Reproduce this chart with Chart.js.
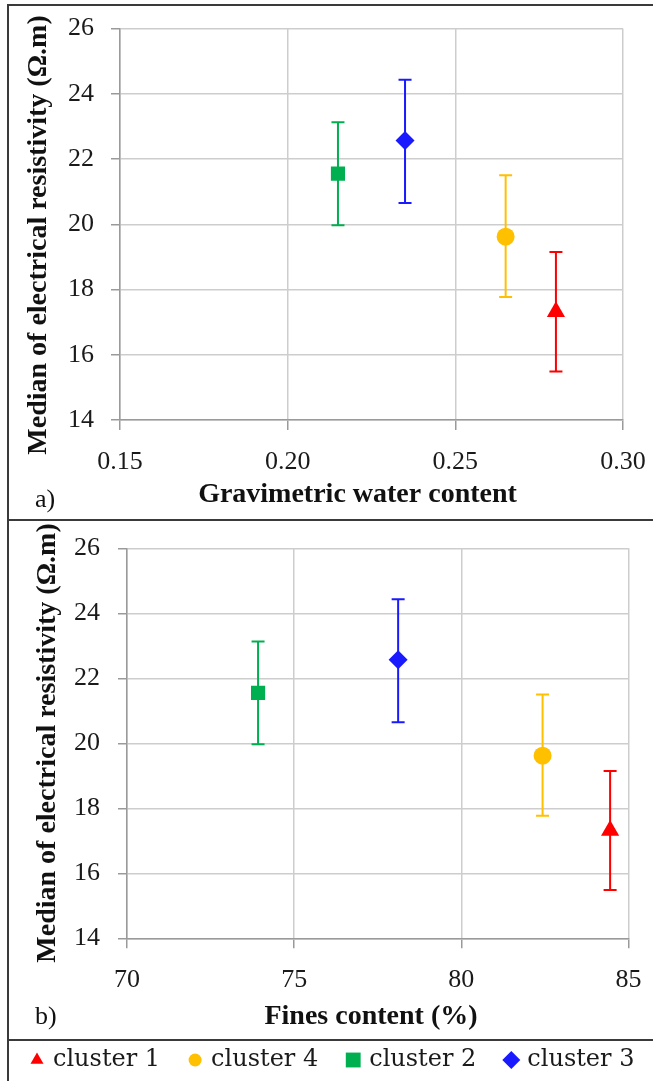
<!DOCTYPE html>
<html>
<head>
<meta charset="utf-8">
<script src="https://cdn.jsdelivr.net/npm/chart.js@4.4.0/dist/chart.umd.min.js"></script>
<style>
  html, body { margin: 0; padding: 0; background: #fff; }
  body { width: 653px; height: 1081px; position: relative; overflow: hidden; }
  .panel { position: absolute; left: 9px; width: 644px; }
  .rule { position: absolute; background: #3a3a3a; }
</style>
</head>
<body>
<div class="panel" style="top:6px;height:513px"><canvas id="chartA"></canvas></div>
<div class="panel" style="top:521px;height:560px"><canvas id="chartB"></canvas></div>
<div class="rule" style="left:7px;top:4px;width:646px;height:2px"></div>
<div class="rule" style="left:7px;top:4px;width:2px;height:1077px"></div>
<div class="rule" style="left:7px;top:519px;width:646px;height:2px"></div>
<div class="rule" style="left:7px;top:1039px;width:646px;height:2px"></div>
<script>
// values, one entry per cluster (legend order)
const clusters = ["cluster 1", "cluster 4", "cluster 2", "cluster 3"];
const waterContent = [0.280, 0.265, 0.215, 0.235];
const finesContent = [84.45, 82.43, 73.92, 78.11];
const resistivityMedian = [17.32, 19.62, 21.55, 22.57];
const resistivityLow = [15.49, 17.77, 19.97, 20.65];
const resistivityHigh = [19.15, 21.50, 23.13, 24.43];

const waterTicks = [0.15, 0.20, 0.25, 0.30];
const finesTicks = [70, 75, 80, 85];
const resistivityTicks = [14, 16, 18, 20, 22, 24, 26];

// styling
const clusterColors = ["#ff0000", "#ffc000", "#00b050", "#1a1aff"];
const markerStyles = ["triangle", "circle", "rect", "rectRot"];
const markerRadii = [10.5, 9, 10, 9.5];
const legendRadii = [7.5, 6.5, 10.5, 9];

const serif = "Liberation Serif";
const tickFont = { family: serif, size: 26 };
const titleFont = 'bold 28px "Liberation Serif"';
const yTitle = "Median of electrical resistivity (\u03a9.m)";

// error bars drawn under the markers
const errorBars = {
    id: "errorBars",
    beforeDatasetsDraw(chart) {
        const { ctx, scales: { x, y } } = chart;
        const cap = 6.5;
        chart.data.datasets.forEach((ds) => {
            ds.data.forEach((pt) => {
                const px = x.getPixelForValue(pt.x);
                const top = y.getPixelForValue(pt.yMax);
                const bot = y.getPixelForValue(pt.yMin);
                ctx.save();
                ctx.strokeStyle = ds.borderColor;
                ctx.lineWidth = 2;
                ctx.beginPath();
                ctx.moveTo(px, top);
                ctx.lineTo(px, bot);
                ctx.moveTo(px - cap, top);
                ctx.lineTo(px + cap, top);
                ctx.moveTo(px - cap, bot);
                ctx.lineTo(px + cap, bot);
                ctx.stroke();
                ctx.restore();
            });
        });
    }
};

// axis titles and panel letters
const panelText = {
    id: "panelText",
    afterDraw(chart, args, opts) {
        const ctx = chart.ctx;
        (opts.items || []).forEach((item) => {
            ctx.save();
            ctx.font = item.font;
            ctx.fillStyle = "#111";
            ctx.textAlign = item.align || "center";
            ctx.textBaseline = "middle";
            ctx.translate(item.x, item.y);
            if (item.rotate) ctx.rotate(item.rotate);
            ctx.fillText(item.text, 0, 0);
            ctx.restore();
        });
    }
};

// one-row legend in the strip under panel b
const stripLegend = {
    id: "stripLegend",
    afterDraw(chart, args, opts) {
        if (!opts.show) return;
        const ctx = chart.ctx;
        ctx.save();
        ctx.font = opts.font;
        ctx.textAlign = "left";
        ctx.textBaseline = "middle";
        let cx = opts.x;
        chart.data.datasets.forEach((ds, i) => {
            ctx.fillStyle = ds.backgroundColor;
            Chart.helpers.drawPoint(ctx, {
                pointStyle: ds.pointStyle,
                radius: legendRadii[i],
                rotation: 0,
                borderWidth: 0
            }, cx, opts.y);
            ctx.fillStyle = "#1a1a1a";
            ctx.fillText(ds.label, cx + opts.gap, opts.y);
            cx += opts.gap + ctx.measureText(ds.label).width + opts.spacing;
        });
        ctx.restore();
    }
};

function buildDatasets(xValues) {
    return clusters.map((name, i) => ({
        label: name,
        data: [{
            x: xValues[i],
            y: resistivityMedian[i],
            yMin: resistivityLow[i],
            yMax: resistivityHigh[i]
        }],
        pointStyle: markerStyles[i],
        pointRadius: markerRadii[i],
        pointHoverRadius: markerRadii[i],
        backgroundColor: clusterColors[i],
        borderColor: clusterColors[i],
        borderWidth: 0,
        pointBorderWidth: 0
    }));
}

function noPadding(sc) {
    sc.paddingTop = 0;
    sc.paddingBottom = 0;
    sc.paddingLeft = 0;
    sc.paddingRight = 0;
}

function buildScales(s) {
    return {
        x: {
            type: "linear",
            min: s.xTicks[0],
            max: s.xTicks[s.xTicks.length - 1],
            afterBuildTicks: (sc) => { sc.ticks = s.xTicks.map((v) => ({ value: v })); },
            afterFit: (sc) => { sc.height = s.xHeight; noPadding(sc); },
            ticks: {
                font: tickFont,
                color: "#1a1a1a",
                padding: 16.5,
                maxRotation: 0,
                autoSkip: false,
                callback: s.xFormat
            },
            grid: { color: "#cdcdcd", lineWidth: 1.5, tickLength: 10, tickColor: "#9a9a9a" },
            border: { color: "#9a9a9a", width: 1.5 }
        },
        y: {
            type: "linear",
            min: 14,
            max: 26,
            afterBuildTicks: (sc) => { sc.ticks = resistivityTicks.map((v) => ({ value: v })); },
            afterFit: (sc) => { sc.width = s.yWidth; noPadding(sc); },
            ticks: { font: tickFont, color: "#1a1a1a", padding: s.yPad },
            grid: { color: "#cdcdcd", lineWidth: 1.5, tickLength: 9, tickColor: "#9a9a9a" },
            border: { color: "#9a9a9a", width: 1.5 }
        }
    };
}

new Chart(document.getElementById("chartA"), {
    type: "scatter",
    data: { datasets: buildDatasets(waterContent) },
    options: {
        responsive: true,
        maintainAspectRatio: false,
        animation: false,
        events: [],
        layout: { padding: { top: 22.5, right: 30, bottom: 0, left: 0 } },
        scales: buildScales({
            xTicks: waterTicks,
            xFormat: (v) => v.toFixed(2),
            xHeight: 99,
            yWidth: 111,
            yPad: 17
        }),
        plugins: {
            legend: { display: false },
            tooltip: { enabled: false },
            stripLegend: { show: false },
            panelText: {
                items: [
                    { text: yTitle, x: 30, y: 229, font: titleFont, rotate: -Math.PI / 2 },
                    { text: "Gravimetric water content", x: 348.5, y: 489, font: titleFont },
                    { text: "a)", x: 26, y: 494, font: '26px "Liberation Serif"', align: "left" }
                ]
            }
        }
    },
    plugins: [errorBars, panelText, stripLegend]
});

new Chart(document.getElementById("chartB"), {
    type: "scatter",
    data: { datasets: buildDatasets(finesContent) },
    options: {
        responsive: true,
        maintainAspectRatio: false,
        animation: false,
        events: [],
        layout: { padding: { top: 27.3, right: 24.5, bottom: 0, left: 0 } },
        scales: buildScales({
            xTicks: finesTicks,
            xFormat: (v) => String(v),
            xHeight: 142.7,
            yWidth: 118,
            yPad: 18
        }),
        plugins: {
            legend: { display: false },
            tooltip: { enabled: false },
            stripLegend: {
                show: true,
                x: 28,
                y: 539,
                gap: 16,
                spacing: 35,
                font: '24px "DejaVu Serif"'
            },
            panelText: {
                items: [
                    { text: yTitle, x: 39, y: 222, font: titleFont, rotate: -Math.PI / 2 },
                    { text: "Fines content (%)", x: 362, y: 496, font: titleFont },
                    { text: "b)", x: 26, y: 496, font: '26px "Liberation Serif"', align: "left" }
                ]
            }
        }
    },
    plugins: [errorBars, panelText, stripLegend]
});
</script>
</body>
</html>
